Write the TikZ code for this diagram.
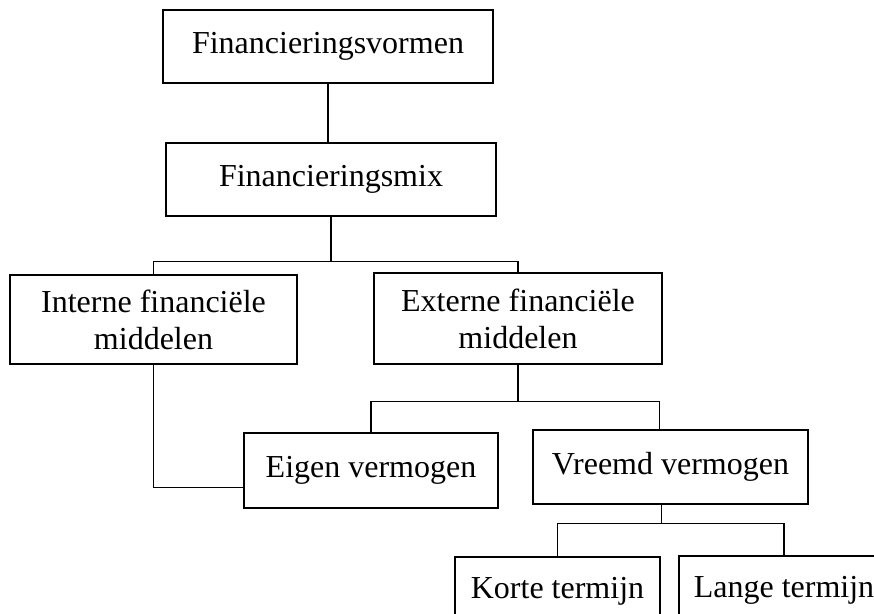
\documentclass[tikz,border=0pt]{standalone}
\usepackage{fontspec}
\setmainfont{Liberation Serif}
\begin{document}
\begin{tikzpicture}[x=1pt,y=-1pt,
  box/.style={draw,line width=1.3pt,align=center,inner sep=0pt,
    font=\fontsize{32}{37}\selectfont},
  link/.style={line width=1.2pt}]
  \useasboundingbox (0,0) rectangle (874,613);
  \clip (0,0) rectangle (874,613);

  \node[box,minimum width=330,minimum height=73] (vormen) at (328,46.5) {Financieringsvormen};
  \node[box,minimum width=330,minimum height=73] (mix) at (331,179.5) {Financieringsmix};

  \node[box,minimum width=287,minimum height=89] (intern) at (153.5,319.5) {Interne financiële\\middelen};
  \node[box,minimum width=288,minimum height=91] (extern) at (518,318.5) {Externe financiële\\middelen};

  \node[box,minimum width=254,minimum height=75] (eigen) at (371,470.5) {Eigen vermogen};
  \node[box,minimum width=275,minimum height=74] (vreemd) at (670.5,467) {Vreemd vermogen};

  \node[box,minimum width=205,minimum height=68] (korte) at (557.5,591) {Korte termijn};
  \node[box,minimum width=210,minimum height=68] (lange) at (784,590) {Lange termijn};

  \draw[link] (vormen.south) -- (vormen.south |- mix.north);

  \draw[link] (mix.south) -- ++(0,45) coordinate (split1);
  \draw[link] (intern.north) |- (split1) -| (extern.north);

  \draw[link] (extern.south) -- ++(0,37) coordinate (split2);
  \draw[link] (eigen.north) |- (split2) -| ([xshift=-11]vreemd.north);

  \draw[link] ([xshift=-9]vreemd.south) -- ++(0,19) coordinate (split3);
  \draw[link] (korte.north) |- (split3) -| (lange.north);

  \draw[link] (intern.south) |- ([yshift=-17]eigen.west);
\end{tikzpicture}
\end{document}
